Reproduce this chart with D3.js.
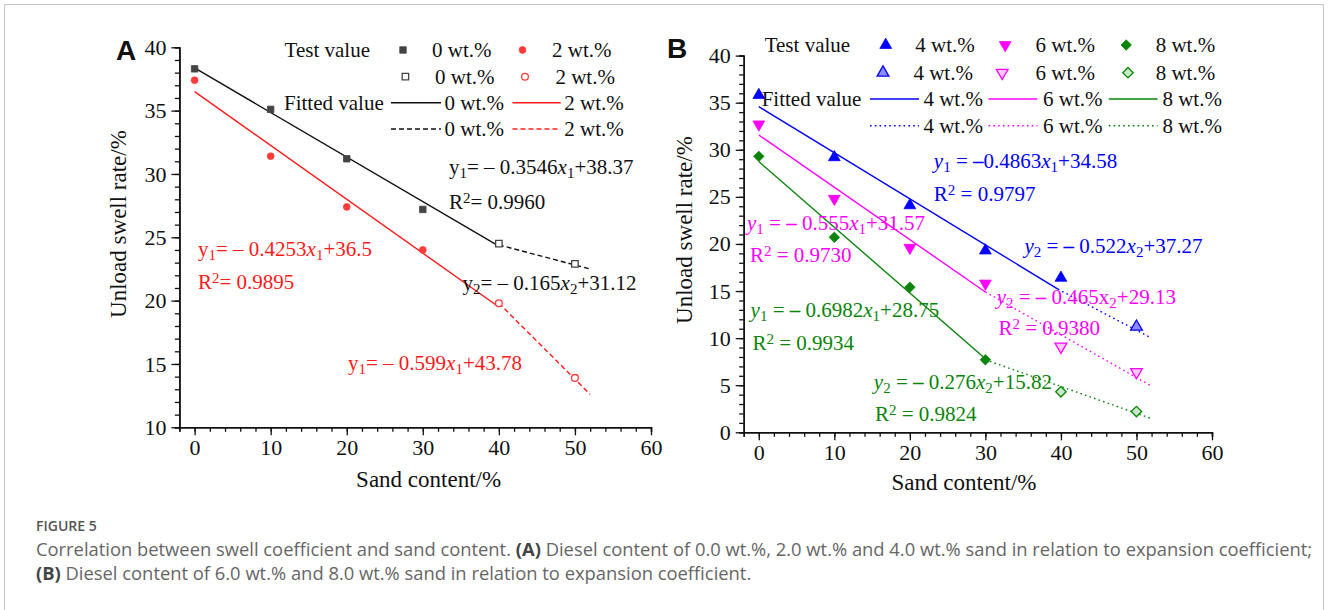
<!DOCTYPE html>
<html>
<head>
<meta charset="utf-8">
<script src="https://cdn.jsdelivr.net/npm/d3@7"></script>
<style>
  body { margin: 0; background: #fff; }
  svg { display: block; }
  .serif { font-family: "Liberation Serif", "Times New Roman", serif; }
</style>
</head>
<body>
<svg id="fig" width="1328" height="610"></svg>
<script>
// sand content (x) shared by every series
const sand = [0, 10, 20, 30, 40, 50];

// unload swell rate (diesel wt.%)
const swell0 = [38.3, 35.1, 31.2, 27.2, 24.5, 22.9];
const swell2 = [37.4, 31.4, 27.4, 24.0, 19.8, 13.9];
const swell4 = [35.8, 29.2, 24.1, 19.3, 16.4, 11.2];
const swell6 = [32.7, 24.8, 19.6, 15.8, 9.1, 6.4];
const swell8 = [29.3, 20.7, 15.4, 7.7, 4.3, 2.2];

// index from which markers are drawn hollow (second stage)
const hollowFrom0 = 4, hollowFrom2 = 4, hollowFrom4 = 5, hollowFrom6 = 4, hollowFrom8 = 4;

// fitted segments [sand, swell] as drawn
const fit0 = [[0, 38.37], [40, 24.3]], fit0b = [[40, 24.4], [52, 22.5]];
const fit2 = [[0, 36.5], [40, 19.5]], fit2b = [[40, 19.8], [52, 12.6]];
const fit4 = [[0, 34.58], [39.6, 15.2]], fit4b = [[39.6, 15.2], [52, 10.0]];
const fit6 = [[0, 31.57], [30, 14.9]], fit6b = [[30, 14.9], [52, 4.9]];
const fit8 = [[0, 28.75], [30, 7.8]], fit8b = [[30, 7.7], [52, 1.45]];

// tick labels
const xTicks = [0, 10, 20, 30, 40, 50, 60];
const yTicksA = [10, 15, 20, 25, 30, 35, 40];
const yTicksB = [0, 5, 10, 15, 20, 25, 30, 35, 40];

const svg = d3.select("#fig");
const SERIF = '"Liberation Serif", "Times New Roman", serif';

svg.append("rect").attr("width", 1328).attr("height", 610).attr("fill", "#fff");
// figure frame (open at the bottom)
svg.append("path")
  .attr("d", "M4.5,620 V4.5 H1323.5 V620")
  .attr("fill", "none").attr("stroke", "#c4c4c4").attr("stroke-width", 1);

// scales
const xA = d3.scaleLinear().domain([-2, 60]).range([179.4, 651]);
const yA = d3.scaleLinear().domain([10, 40]).range([427.3, 47.3]);
const xB = d3.scaleLinear().domain([-2, 60]).range([743.7, 1212]);
const yB = d3.scaleLinear().domain([0, 40]).range([432.3, 55.6]);

function drawAxes(x, y, yTicks, yMinor) {
  const yMin = y.domain()[0];
  const g = svg.append("g").attr("class", "serif");
  // minor ticks
  g.append("g").attr("transform", `translate(0,${y(yMin)})`)
    .call(d3.axisBottom(x).tickValues(d3.range(-2, 61, 2)).tickSize(4.5).tickFormat(""));
  g.append("g").attr("transform", `translate(${x(-2)},0)`)
    .call(d3.axisLeft(y).tickValues(yMinor).tickSize(4.5).tickFormat(""));
  // major ticks
  g.append("g").attr("transform", `translate(0,${y(yMin)})`)
    .call(d3.axisBottom(x).tickValues(xTicks).tickSize(8).tickPadding(4).tickSizeOuter(0));
  g.append("g").attr("transform", `translate(${x(-2)},0)`)
    .call(d3.axisLeft(y).tickValues(yTicks).tickSize(8).tickPadding(5).tickSizeOuter(0));
  g.selectAll("path.domain").attr("stroke", "#111").attr("stroke-width", 1.5);
  g.selectAll(".tick line").attr("stroke", "#111").attr("stroke-width", 1.3);
  g.selectAll(".tick text").attr("font-family", SERIF).attr("font-size", 22).attr("fill", "#111");
}
drawAxes(xA, yA, yTicksA, d3.range(10, 41, 1));
drawAxes(xB, yB, yTicksB, d3.range(0, 41, 1));

// axis titles
function title(txt, x, y, rot) {
  svg.append("text").attr("font-family", SERIF).attr("font-size", 23).attr("fill", "#111")
    .attr("text-anchor", "middle")
    .attr("transform", `translate(${x},${y})` + (rot ? " rotate(-90)" : ""))
    .text(txt);
}
title("Sand content/%", 428.6, 487, false);
title("Sand content/%", 964, 490, false);
title("Unload swell rate/%", 126, 224, true);
title("Unload swell rate/%", 692, 230, true);

// panel letters
svg.append("text").attr("x", 116).attr("y", 60).attr("font-family", '"Liberation Sans", Arial, sans-serif')
  .attr("font-weight", "bold").attr("font-size", 28).attr("fill", "#111").text("A");
svg.append("text").attr("x", 667).attr("y", 58).attr("font-family", '"Liberation Sans", Arial, sans-serif')
  .attr("font-weight", "bold").attr("font-size", 28).attr("fill", "#111").text("B");

// markers
const symSquare = d3.symbol().type(d3.symbolSquare).size(42);
const symCircle = d3.symbol().type(d3.symbolCircle).size(36);
const symTri = d3.symbol().type(d3.symbolTriangle).size(60);
const symDiamond = d3.symbol().type(d3.symbolDiamond2 || d3.symbolDiamond).size(70);

function marker(sym, cx, cy, color, hollow, rot, lightFill) {
  svg.append("path")
    .attr("d", sym())
    .attr("transform", `translate(${cx},${cy})` + (rot ? ` rotate(${rot})` : ""))
    .attr("fill", hollow ? (lightFill || "#fff") : color)
    .attr("stroke", color)
    .attr("stroke-width", hollow ? 1.3 : 0.8);
}

function drawLine(pts, x, y, color, dash) {
  svg.append("path")
    .datum(pts)
    .attr("fill", "none")
    .attr("stroke", color)
    .attr("stroke-width", 1.4)
    .attr("stroke-dasharray", dash || null)
    .attr("d", d3.line().x(d => x(d[0])).y(d => y(d[1])));
}

const DASH = "5,3";
const DOT = "1.6,3.2";

// Panel A
drawLine(fit0, xA, yA, "#111");
drawLine(fit0b, xA, yA, "#111", DASH);
drawLine(fit2, xA, yA, "#ff1a1a");
drawLine(fit2b, xA, yA, "#ff1a1a", DASH);
sand.forEach((s, i) => marker(symSquare, xA(s), yA(swell0[i]), "#444", i >= hollowFrom0));
sand.forEach((s, i) => marker(symCircle, xA(s), yA(swell2[i]), "#ff3b3b", i >= hollowFrom2));

// Panel B
const BLUE = "#0000ff", MAG = "#ff00ff", GREEN = "#0a840a";
drawLine(fit4, xB, yB, BLUE);
drawLine(fit4b, xB, yB, BLUE, DOT);
drawLine(fit6, xB, yB, MAG);
drawLine(fit6b, xB, yB, MAG, DOT);
drawLine(fit8, xB, yB, GREEN);
drawLine(fit8b, xB, yB, GREEN, DOT);
sand.forEach((s, i) => marker(symTri, xB(s), yB(swell4[i]), BLUE, i >= hollowFrom4, 0, "#8c8cff"));
sand.forEach((s, i) => marker(symTri, xB(s), yB(swell6[i]), MAG, i >= hollowFrom6, 180, "#ffc8ff"));
sand.forEach((s, i) => marker(symDiamond, xB(s), yB(swell8[i]), GREEN, i >= hollowFrom8, 0, "#c8e8c8"));

// legends
function ltext(x, cy, txt) {
  svg.append("text").attr("x", x).attr("y", cy + 7).attr("font-family", SERIF)
    .attr("font-size", 21).attr("fill", "#111").text(txt);
}
function lline(x1, x2, cy, color, dash) {
  svg.append("line").attr("x1", x1).attr("x2", x2).attr("y1", cy).attr("y2", cy)
    .attr("stroke", color).attr("stroke-width", 1.4).attr("stroke-dasharray", dash || null);
}
// A
ltext(284.6, 50, "Test value");
marker(symSquare, 403, 50, "#444", false); ltext(432, 50, "0 wt.%");
marker(symCircle, 522.5, 50, "#ff3b3b", false); ltext(552, 50, "2 wt.%");
marker(symSquare, 405.4, 76.7, "#444", true); ltext(435, 76.7, "0 wt.%");
marker(symCircle, 525, 76.7, "#ff3b3b", true); ltext(555.4, 76.7, "2 wt.%");
ltext(284, 102.7, "Fitted value");
lline(391, 441, 102.7, "#111"); ltext(444.6, 102.7, "0 wt.%");
lline(512.5, 560.7, 102.7, "#ff1a1a"); ltext(564.3, 102.7, "2 wt.%");
lline(391, 441, 129, "#111", DASH); ltext(444.6, 129, "0 wt.%");
lline(512.5, 560.7, 129, "#ff1a1a", DASH); ltext(564.3, 129, "2 wt.%");
// B
ltext(764.7, 45, "Test value");
marker(symTri, 885.7, 45, BLUE, false); ltext(915.3, 45, "4 wt.%");
marker(symTri, 1005.2, 45, MAG, false, 180); ltext(1035.5, 45, "6 wt.%");
marker(symDiamond, 1126.2, 45, GREEN, false); ltext(1155.7, 45, "8 wt.%");
marker(symTri, 883, 72.7, BLUE, true, 0, "#8c8cff"); ltext(913.4, 72.7, "4 wt.%");
marker(symTri, 1002.2, 72.7, MAG, true, 180, "#ffc8ff"); ltext(1035.5, 72.7, "6 wt.%");
marker(symDiamond, 1128, 72.7, GREEN, true, 0, "#c8e8c8"); ltext(1155.7, 72.7, "8 wt.%");
ltext(761.7, 99, "Fitted value");
lline(870, 919, 99, BLUE); ltext(923.4, 99, "4 wt.%");
lline(988.5, 1037.4, 99, MAG); ltext(1043, 99, "6 wt.%");
lline(1108.8, 1157.6, 99, GREEN); ltext(1162.4, 99, "8 wt.%");
lline(870, 919, 125.7, BLUE, DOT); ltext(923.4, 125.7, "4 wt.%");
lline(988.5, 1037.4, 125.7, MAG, DOT); ltext(1043, 125.7, "6 wt.%");
lline(1108.8, 1157.6, 125.7, GREEN, DOT); ltext(1162.4, 125.7, "8 wt.%");

// equation labels: parts are [text, style] with style i=italic, s=sub, p=sup, b=bold
function eq(x, cy, color, parts) {
  const t = svg.append("text").attr("x", x).attr("y", cy + 7).attr("font-family", SERIF)
    .attr("font-size", 21).attr("fill", color);
  parts.forEach(([txt, st]) => {
    const sp = t.append("tspan").text(txt);
    st = st || "";
    if (st.includes("i")) sp.attr("font-style", "italic");
    if (st.includes("b")) sp.attr("font-weight", "bold");
    if (st.includes("s")) sp.attr("baseline-shift", "-25%").attr("font-size", 15);
    if (st.includes("p")) sp.attr("baseline-shift", "38%").attr("font-size", 15);
  });
}
const sq = v => [["R"], ["2", "p"], [v]];
// A
eq(449, 166.7, "#111", [["y"], ["1", "s"], ["= \u2013 0.3546"], ["x", "i"], ["1", "s"], ["+38.37"]]);
eq(449, 201.7, "#111", sq("= 0.9960"));
eq(198, 249, "#ff1a1a", [["y"], ["1", "s"], ["= \u2013 0.4253"], ["x", "i"], ["1", "s"], ["+36.5"]]);
eq(198, 281.7, "#ff1a1a", sq("= 0.9895"));
eq(462.5, 283.3, "#111", [["y"], ["2", "s"], ["= \u2013 0.165"], ["x", "i"], ["2", "s"], ["+31.12"]]);
eq(348, 362.7, "#ff1a1a", [["y"], ["1", "s"], ["= \u2013 0.599"], ["x", "i"], ["1", "s"], ["+43.78"]]);
// B
eq(933.8, 161, BLUE, [["y", "i"], ["1", "s"], [" = "], ["\u2013", "b"], ["0.4863"], ["x", "i"], ["1", "s"], ["+34.58"]]);
eq(933.8, 194, BLUE, sq(" = 0.9797"));
eq(1024.4, 246, BLUE, [["y", "i"], ["2", "s"], [" = "], ["\u2013", "b"], [" 0.522"], ["x", "i"], ["2", "s"], ["+37.27"]]);
eq(747, 222.7, MAG, [["y", "i"], ["1", "s"], [" = "], ["\u2013", "b"], [" 0.555"], ["x", "i"], ["1", "s"], ["+31.57"]]);
eq(750, 255, MAG, sq(" = 0.9730"));
eq(996.7, 296.7, MAG, [["y", "i"], ["2", "s"], [" = "], ["\u2013", "b"], [" 0.465x"], ["2", "s"], ["+29.13"]]);
eq(998.5, 328.3, MAG, sq(" = 0.9380"));
eq(750.6, 310, GREEN, [["y", "i"], ["1", "s"], [" = "], ["\u2013", "b"], [" 0.6982"], ["x", "i"], ["1", "s"], ["+28.75"]]);
eq(752.5, 343.3, GREEN, sq(" = 0.9934"));
eq(873.8, 381.7, GREEN, [["y", "i"], ["2", "s"], [" = "], ["\u2013", "b"], [" 0.276"], ["x", "i"], ["2", "s"], ["+15.82"]]);
eq(875, 414, GREEN, sq(" = 0.9824"));

// caption
const CAP = '"Open Sans", "Noto Sans", sans-serif';
svg.append("text").attr("x", 36).attr("y", 531).attr("font-family", CAP).attr("font-size", 14)
  .attr("font-weight", 600).attr("fill", "#555").text("FIGURE 5");
const cap1 = svg.append("text").attr("x", 36).attr("y", 556).attr("font-family", CAP)
  .attr("font-size", 17).attr("fill", "#666");
cap1.append("tspan").text("Correlation between swell coefficient and sand content. ");
cap1.append("tspan").attr("font-weight", "bold").attr("fill", "#444").text("(A)");
cap1.append("tspan").text(" Diesel content of 0.0 wt.%, 2.0 wt.% and 4.0 wt.% sand in relation to expansion coefficient;");
const cap2 = svg.append("text").attr("x", 36).attr("y", 580).attr("font-family", CAP)
  .attr("font-size", 17).attr("fill", "#666");
cap2.append("tspan").attr("font-weight", "bold").attr("fill", "#444").text("(B)");
cap2.append("tspan").text(" Diesel content of 6.0 wt.% and 8.0 wt.% sand in relation to expansion coefficient.");
// fit caption width to the frame
const w1 = cap1.node().getComputedTextLength();
const fs = 17 * 1277 / w1;
cap1.attr("font-size", fs);
cap2.attr("font-size", fs);
</script>
</body>
</html>
